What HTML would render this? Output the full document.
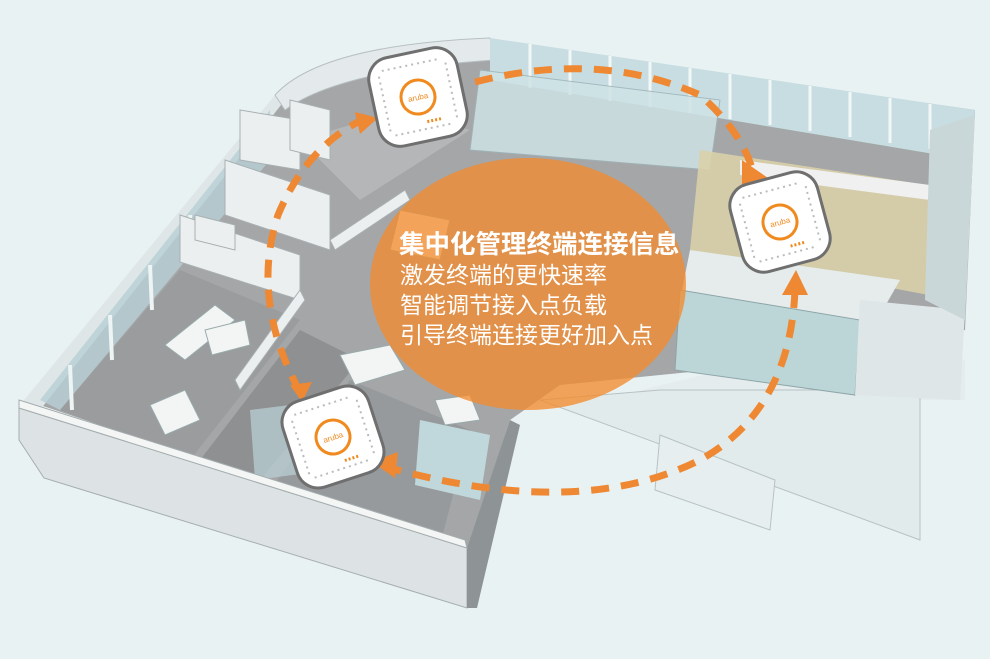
<!DOCTYPE html>
<html><head><meta charset="utf-8"><style>
html,body{margin:0;padding:0;background:#e9f2f3;}
svg{display:block}
</style></head><body>
<svg width="990" height="659" viewBox="0 0 990 659" xmlns="http://www.w3.org/2000/svg">
<rect width="990" height="659" fill="#e9f2f3"/>
<polygon points="540,400 965,400 965,360 930,360 940,330 930,320 600,400" fill="#e4eced"/>
<polygon points="540,400 920,540 920,390 660,390" fill="#e2ebec" stroke="#b8c2c4" stroke-width="1"/>
<polygon points="660,435 775,480 770,530 655,490" fill="#e6eeef" stroke="#b8c2c4"/>
<polygon points="40,405 280,92 490,40 975,110 965,330 860,355 560,385 510,420 468,548" fill="#a4a6a8"/>
<polygon points="60,410 180,270 300,320 190,460" fill="#9a9c9e"/>
<polygon points="200,460 300,330 360,360 260,480" fill="#8e9092"/>
<polygon points="270,490 350,380 470,430 440,545" fill="#979a9c"/>
<polygon points="300,140 400,110 470,130 360,200" fill="#b4b6b8"/>
<polygon points="20,405 275,95 285,100 40,410" fill="#dfe6e7"/>
<polygon points="40,400 270,110 270,160 60,410" fill="#b7cfd4" opacity=".8"/>
<g stroke="#eef3f3" stroke-width="4">
<line x1="70" y1="365" x2="72" y2="410"/><line x1="110" y1="315" x2="112" y2="360"/><line x1="150" y1="265" x2="152" y2="310"/><line x1="190" y1="215" x2="192" y2="260"/><line x1="230" y1="165" x2="232" y2="210"/>
</g>
<path d="M275,95 Q320,45 490,38 L495,60 Q340,70 285,110 Z" fill="#e4eaeb" stroke="#b8c0c2"/>
<polygon points="490,38 975,110 970,160 490,80" fill="#c7dde2"/>
<g stroke="#f2f6f6" stroke-width="3">
<line x1="530" y1="44" x2="530" y2="88"/><line x1="570" y1="50" x2="570" y2="95"/><line x1="610" y1="56" x2="610" y2="101"/><line x1="650" y1="62" x2="650" y2="107"/><line x1="690" y1="68" x2="690" y2="113"/><line x1="730" y1="74" x2="730" y2="119"/><line x1="770" y1="80" x2="770" y2="125"/><line x1="810" y1="86" x2="810" y2="131"/><line x1="850" y1="92" x2="850" y2="137"/><line x1="890" y1="98" x2="890" y2="143"/><line x1="930" y1="104" x2="930" y2="149"/>
</g>
<polygon points="480,70 720,100 710,170 470,150" fill="#cfe3e6" opacity=".85" stroke="#9fb4b8"/>
<polygon points="700,150 960,190 955,300 690,250" fill="#d9d0a8" opacity=".9"/>
<polygon points="740,160 930,185 930,200 740,175" fill="#f0f0f0"/>
<polygon points="690,250 900,280 860,350 680,300" fill="#e6ecec"/>
<polygon points="680,290 860,320 855,395 675,370" fill="#bcd6d8" stroke="#8ea5a8"/>
<polygon points="860,300 965,310 960,400 855,395" fill="#dfe6e7"/>
<polygon points="930,130 975,115 965,320 925,300" fill="#c9d7d9"/>
<g fill="#eceff0" stroke="#a9b0b2">
<polygon points="240,110 300,120 300,170 240,160"/>
<polygon points="225,160 330,195 330,250 225,215"/>
<polygon points="180,215 300,255 300,300 180,262"/>
<polygon points="235,380 300,290 305,300 240,390"/>
<polygon points="330,240 405,190 410,200 335,250"/>
<polygon points="290,100 330,110 330,160 290,150"/>
<polygon points="195,215 235,225 235,250 195,240"/>
</g>
<polygon points="250,410 330,400 330,470 255,480" fill="#b6cbd0" opacity=".8"/>
<polygon points="420,420 490,435 480,500 415,485" fill="#c0d8dc"/>
<g fill="#f3f5f5" stroke="#9aa">
<polygon points="165,345 215,305 235,320 185,360"/>
<polygon points="205,330 245,320 250,345 212,355"/>
<polygon points="150,405 185,390 200,420 165,435"/>
<polygon points="400,210 450,220 440,260 390,250"/>
<polygon points="340,355 390,345 405,370 355,385"/>
<polygon points="435,400 470,395 480,420 445,425"/>
</g>
<polygon points="19,408 467,548 467,608 44,478 19,440" fill="#dde3e4" stroke="#a5adaf"/>
<polygon points="467,548 510,420 520,425 477,608 467,608" fill="#8e9496"/>
<polygon points="19,400 465,540 467,548 19,408" fill="#f4f6f6" stroke="#a5adaf"/>
<ellipse cx="528" cy="284" rx="158" ry="126" fill="#f28c2e" opacity=".78"/>
<g fill="none" stroke="#ee8833" stroke-width="7" stroke-dasharray="18,12">
<path d="M475,82 Q600,50 700,95 Q740,130 752,168"/>
<path d="M795,290 Q790,410 700,460 Q580,520 390,468"/>
<path d="M300,392 Q250,300 278,215 Q305,150 358,122"/>
</g>
<g fill="#ee8833">
<polygon points="742,160 768,178 742,186"/>
<polygon points="782,295 808,295 796,270"/>
<polygon points="395,478 372,462 398,452"/>
<polygon points="290,385 312,382 302,402"/>
<polygon points="355,112 378,118 360,134"/>
</g>
<g transform="translate(418,97) rotate(-12)">
<rect x="-45" y="-45" width="90" height="90" rx="22" fill="#fff" stroke="#6f6f6f" stroke-width="3"/>
<circle r="17" fill="none" stroke="#f08a1e" stroke-width="3"/>
<text x="0" y="3" font-family="Liberation Sans,sans-serif" font-size="8" fill="#f08a1e" text-anchor="middle">aruba</text>
<g stroke="#bbb" stroke-width="2"><line x1="-30" y1="-33" x2="30" y2="-33" stroke-dasharray="2,4"/><line x1="-30" y1="33" x2="30" y2="33" stroke-dasharray="2,4"/><line x1="-34" y1="-28" x2="-34" y2="28" stroke-dasharray="2,4"/><line x1="34" y1="-28" x2="34" y2="28" stroke-dasharray="2,4"/></g>
<line x1="4" y1="26" x2="18" y2="26" stroke="#f08a1e" stroke-width="3" stroke-dasharray="2,2"/>
</g>
<g transform="translate(780,222) rotate(-15)">
<rect x="-45" y="-45" width="90" height="90" rx="22" fill="#fff" stroke="#6f6f6f" stroke-width="3"/>
<circle r="17" fill="none" stroke="#f08a1e" stroke-width="3"/>
<text x="0" y="3" font-family="Liberation Sans,sans-serif" font-size="8" fill="#f08a1e" text-anchor="middle">aruba</text>
<g stroke="#bbb" stroke-width="2"><line x1="-30" y1="-33" x2="30" y2="-33" stroke-dasharray="2,4"/><line x1="-30" y1="33" x2="30" y2="33" stroke-dasharray="2,4"/><line x1="-34" y1="-28" x2="-34" y2="28" stroke-dasharray="2,4"/><line x1="34" y1="-28" x2="34" y2="28" stroke-dasharray="2,4"/></g>
<line x1="4" y1="26" x2="18" y2="26" stroke="#f08a1e" stroke-width="3" stroke-dasharray="2,2"/>
</g>
<g transform="translate(333,437) rotate(-18)">
<rect x="-45" y="-45" width="90" height="90" rx="22" fill="#fff" stroke="#6f6f6f" stroke-width="3"/>
<circle r="17" fill="none" stroke="#f08a1e" stroke-width="3"/>
<text x="0" y="3" font-family="Liberation Sans,sans-serif" font-size="8" fill="#f08a1e" text-anchor="middle">aruba</text>
<g stroke="#bbb" stroke-width="2"><line x1="-30" y1="-33" x2="30" y2="-33" stroke-dasharray="2,4"/><line x1="-30" y1="33" x2="30" y2="33" stroke-dasharray="2,4"/><line x1="-34" y1="-28" x2="-34" y2="28" stroke-dasharray="2,4"/><line x1="34" y1="-28" x2="34" y2="28" stroke-dasharray="2,4"/></g>
<line x1="4" y1="26" x2="18" y2="26" stroke="#f08a1e" stroke-width="3" stroke-dasharray="2,2"/>
</g>
<g font-family="Liberation Sans,'Noto Sans CJK SC',sans-serif" fill="#fff" font-size="23">
<text x="399" y="253" font-weight="bold" font-size="25.5">集中化管理终端连接信息</text>
<text x="400" y="283">激发终端的更快速率</text>
<text x="400" y="313">智能调节接入点负载</text>
<text x="400" y="343">引导终端连接更好加入点</text>
</g>
</svg>
</body></html>
